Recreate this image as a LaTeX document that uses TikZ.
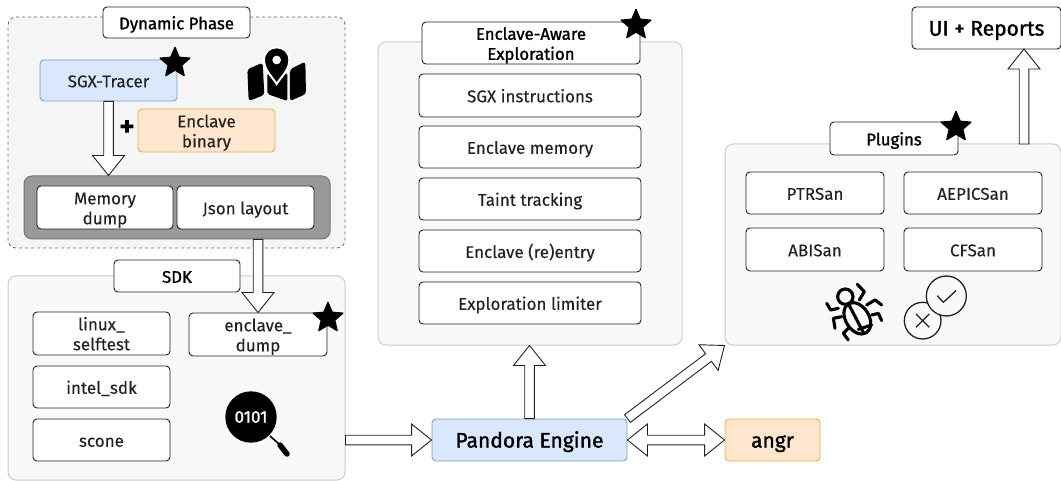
\documentclass[tikz,border=0pt]{standalone}
\usepackage{fontspec}
\setmainfont[FakeBold=0.12]{Fira Sans}
\newfontfamily\medf[FakeBold=1.4]{Fira Sans}
\usetikzlibrary{calc,shapes.geometric}
\definecolor{pfill}{HTML}{F9F9F9}
\definecolor{dfill}{HTML}{F5F5F5}
\definecolor{pline}{HTML}{CCCCCC}
\definecolor{ink}{HTML}{222222}
\definecolor{bluefill}{HTML}{DAE8FC}
\definecolor{blueline}{HTML}{7C9CCB}
\definecolor{orfill}{HTML}{FFE6CC}
\definecolor{orline}{HTML}{E2B446}
\tikzset{
  box/.style={draw=ink,fill=white,rounded corners=4pt,line width=.9pt,inner sep=0pt,text=ink,font=\fontsize{17}{20}\selectfont},
  hdr/.style={box,text=black,font=\fontsize{16.8}{20}\selectfont\medf},
  panel/.style={draw=pline,fill=pfill,rounded corners=8pt,line width=1pt,inner sep=0pt},
  dynpanel/.style={draw=black!60,fill=dfill,dashed,rounded corners=8pt,line width=.8pt,inner sep=0pt},
  grouppanel/.style={draw=black!55,fill=black!40,rounded corners=8pt,line width=1pt,inner sep=0pt},
  bluebox/.style={box,draw=blueline,fill=bluefill},
  bigtext/.style={text=black,font=\fontsize{21}{24}\selectfont\medf},
  orangebox/.style={box,draw=orline,fill=orfill},
  starmark/.style={star,star points=5,star point ratio=2.2,fill=black,draw=black,line width=1.4pt,line join=round,minimum size=31pt,inner sep=0pt},
  blockar/.style={draw=ink,fill=white,line width=.9pt,line join=miter},
  iconline/.style={draw=black,line width=3.1pt,line cap=round,line join=round},
}
\newcommand\bx[7]{%
  \pgfmathsetmacro\bxw{#5-#3}\pgfmathsetmacro\bxh{#6-#4}%
  \node[#2,minimum width=\bxw pt,minimum height=\bxh pt] (#1) at ({(#3+#5)/2},{(#4+#6)/2}) {\raisebox{-2.8pt}[\height][\depth]{\begin{tabular}{@{}c@{}}#7\end{tabular}}};}
\newcommand\blockarr[2]{%
  \coordinate (ba) at ($(#2)!20pt!(#1)$);
  \draw[blockar] ($(#1)!4.8pt!90:(#2)$) -- ($(ba)!4.8pt!-90:(#1)$) -- ($(ba)!16pt!-90:(#1)$) -- (#2)
    -- ($(ba)!16pt!90:(#1)$) -- ($(ba)!4.8pt!90:(#1)$) -- ($(#1)!4.8pt!-90:(#2)$) -- cycle;}
\newcommand\blockdbl[2]{%
  \coordinate (ba) at ($(#2)!20pt!(#1)$);
  \coordinate (bc) at ($(#1)!20pt!(#2)$);
  \draw[blockar] (#1) -- ($(bc)!16pt!90:(#2)$) -- ($(bc)!4.8pt!90:(#2)$) -- ($(ba)!4.8pt!-90:(#1)$) -- ($(ba)!16pt!-90:(#1)$) -- (#2)
    -- ($(ba)!16pt!90:(#1)$) -- ($(ba)!4.8pt!90:(#1)$) -- ($(bc)!4.8pt!-90:(#2)$) -- ($(bc)!16pt!-90:(#2)$) -- cycle;}
\begin{document}
\begin{tikzpicture}[x=1pt,y=-1pt]
\useasboundingbox (0,0) rectangle (1061,481);
% panels
\bx{dyn}{dynpanel}{8}{17}{345}{248}{}
\bx{sdk}{panel}{8}{276}{345}{480}{}
\bx{expl}{panel}{378}{42}{682}{345}{}
\bx{plug}{panel}{725}{144}{1061}{345}{}
% headers
\bx{dynh}{hdr}{103}{7}{250}{38}{Dynamic Phase}
\bx{sdkh}{hdr}{114}{260}{240}{292}{SDK}
\bx{explh}{hdr}{422}{22}{640}{64}{Enclave-Aware\\Exploration}
\bx{plugh}{hdr}{830}{122}{958}{155}{Plugins}
% dynamic phase
\bx{sgx}{bluebox}{40}{60}{177}{101}{SGX-Tracer}
\bx{bin}{orangebox}{138}{109}{275}{152}{Enclave\\binary}
\node[font=\fontsize{29}{29}\selectfont\bfseries,inner sep=0pt] (plus) at (127,128) {+};
\bx{grp}{grouppanel}{24}{176}{330}{239}{}
\bx{mem}{box}{37}{186}{173}{229}{Memory\\dump}
\bx{json}{box}{177}{186}{314}{229}{Json layout}
% SDK
\bx{linux}{box}{33}{312}{170}{355}{linux\_\\selftest}
\bx{intel}{box}{33}{366}{170}{408}{intel\_sdk}
\bx{scone}{box}{33}{419}{170}{461}{scone}
\bx{dump}{box}{189}{313}{327}{356}{enclave\_\\dump}
% exploration
\bx{e1}{box}{419}{74}{641}{117}{SGX instructions}
\bx{e2}{box}{419}{126}{641}{168}{Enclave memory}
\bx{e3}{box}{419}{178}{641}{220}{Taint tracking}
\bx{e4}{box}{419}{230}{641}{272}{Enclave (re)entry}
\bx{e5}{box}{419}{282}{641}{324}{Exploration limiter}
% plugins
\bx{p1}{box}{746}{172}{884}{214}{PTRSan}
\bx{p2}{box}{904}{172}{1042}{214}{AEPICSan}
\bx{p3}{box}{746}{228}{884}{271}{ABISan}
\bx{p4}{box}{904}{228}{1042}{271}{CFSan}
% engine etc
\bx{eng}{bluebox,bigtext}{432}{419}{627}{461}{Pandora Engine}
\bx{angr}{orangebox,bigtext}{725}{419}{820}{461}{angr}
\bx{ui}{box,bigtext}{912}{7}{1061}{49}{UI + Reports}
% connectors
\coordinate (grpin) at (sgx.south |- grp.north);
\coordinate (grpout) at (dump.north |- grp.south);
\coordinate (sdkout) at (sdk.east |- eng.west);
\coordinate (explin) at (eng.north |- expl.south);
\coordinate (plugout) at (1024,144);
\coordinate (uiin) at (1024,49);
\blockarr{sgx.south}{grpin}
\blockarr{grpout}{dump.north}
\blockarr{sdkout}{eng.west}
\blockarr{eng.north}{explin}
\blockarr{eng.north east}{plug.south west}
\blockdbl{eng.east}{angr.west}
\blockarr{plugout}{uiin}
% stars
\node[starmark] (s1) at (175,63) {};
\node[starmark] (s2) at (328,318) {};
\node[starmark] (s3) at (636,25) {};
\node[starmark] (s4) at (956,127) {};
% map icon
\begin{scope}[shift={(240,40)},x=.3333pt,y=-.3333pt]
  \fill[black,rounded corners=3pt] (22,88) -- (68,68) -- (73,165) -- (26,183) -- cycle;
  \fill[black,rounded corners=3pt] (150,88) -- (196,65) -- (198,162) -- (150,183) -- cycle;
  \fill[black,rounded corners=2pt] (82,100) -- (142,100) -- (142,183) -- (82,162) -- cycle;
  \draw[white,line width=2pt,fill=black] (110,132) .. controls (95,108) and (72,90) .. (72,60) .. controls (72,36) and (90,22) .. (110,22) .. controls (130,22) and (148,36) .. (148,60) .. controls (148,90) and (125,108) .. (110,132) -- cycle;
  \fill[white] (110,60) circle (13);
\end{scope}
% magnifier
\fill[black] (251,417) circle (25.7);
\draw[black,line width=1.6pt] (270,436) -- (279,444);
\draw[black,line width=5.5pt,line cap=round] (280,445) -- (287,454);
\node[text=white,font=\fontsize{17}{17}\selectfont\medf,inner sep=0pt] (bits) at (251,417) {0101};
% bug icon
\begin{scope}[shift={(820,275)},x=.3333pt,y=-.3333pt]
  \draw[iconline] (112,130) ellipse [x radius=51pt/3,y radius=35pt/3,rotate=-58];
  \draw[iconline] (76,65) circle (23pt/3);
  \draw[iconline] (86,88) -- (130,172);
  \draw[iconline] (115,163) -- (155,150);
  \draw[iconline] (112,28) -- (133,50) -- (118,75);
  \draw[iconline] (185,90) -- (165,75) -- (140,90);
  \draw[iconline] (185,137) -- (175,115) -- (155,120);
  \draw[iconline] (20,85) -- (32,105) -- (55,100);
  \draw[iconline] (45,160) -- (40,130) -- (65,125);
  \draw[iconline] (85,195) -- (70,175) -- (85,160);
\end{scope}
% verdict icon
\begin{scope}[shift={(820,275)},x=.3333pt,y=-.3333pt]
  \draw[ink,line width=1.3pt] (308,137) circle (55pt/3);
  \draw[ink,line width=1.3pt] (288,117) -- (328,157) (328,117) -- (288,157);
  \draw[ink,line width=1.3pt,fill=pfill] (379,63) circle (60pt/3);
  \draw[ink,line width=1.3pt,line join=round] (352,62) -- (370,82) -- (408,47);
\end{scope}
\end{tikzpicture}
\end{document}
